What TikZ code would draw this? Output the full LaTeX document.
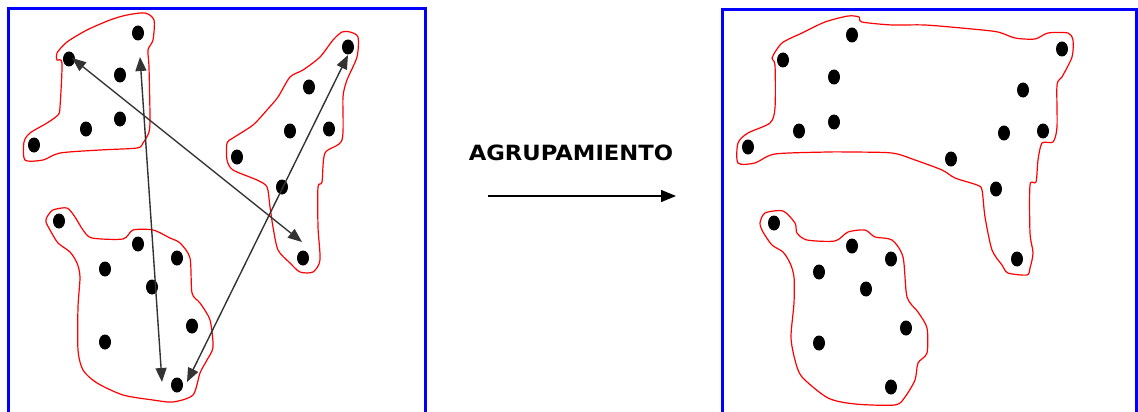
\documentclass[tikz,border=0pt]{standalone}
\usepackage{fontspec}
\usetikzlibrary{arrows.meta,shapes.geometric}
\newfontfamily\labelfont{DejaVu Sans}
\begin{document}
\begin{tikzpicture}[x=1pt,y=-1pt,
  dot/.style={ellipse,fill=black,inner sep=0pt,minimum width=12pt,minimum height=15pt},
  frame/.style={draw=blue,line width=3pt},
  blob/.style={draw=red,line width=1.2pt},
  link/.style={draw=black!80,line width=1.4pt,{Triangle[length=14pt,width=11pt]}-{Triangle[length=14pt,width=11pt]}},
  goarrow/.style={draw=black,line width=1.3pt,-{Triangle[length=15pt,width=12pt]}}]
\useasboundingbox (0,0) rectangle (1138,412);
\fill[white] (0,0) rectangle (1138,412);
% frames
\draw[frame] (8,414) -- (8,9) -- (425,9) -- (425,414);
\draw[frame] (722,414) -- (722,10) -- (1136,10) -- (1136,414);
% left contours
\draw[blob] plot[smooth cycle,tension=0.45] coordinates{(57,53) (67,42) (87,30) (110,20) (127,15) (145,13) (154,20) (153,40) (148,50) (149,67) (150,117) (149,132) (143,143) (137,148) (100,150) (60,153) (43,160) (25,160) (24,142) (30,133) (47,123) (58,115) (60,107) (62,63) (57,60)};
\draw[blob] plot[smooth cycle,tension=0.45] coordinates{(350,32) (358,37) (357,57) (347,80) (343,97) (342,140) (325,153) (322,182) (318,187) (318,227) (320,260) (313,272) (300,272) (290,263) (278,250) (273,227) (270,207) (267,187) (257,180) (233,170) (227,160) (227,143) (233,138) (253,125) (267,110) (278,97) (290,77) (303,70) (320,57) (333,40) (342,32)};
\draw[blob] plot[smooth cycle,tension=0.45] coordinates{(47,217) (53,210) (67,208) (75,217) (83,230) (92,238) (123,239) (133,230) (153,230) (170,238) (180,243) (190,258) (192,293) (200,303) (210,320) (213,347) (207,360) (200,373) (193,395) (173,402) (153,400) (123,395) (97,383) (83,370) (78,350) (78,307) (80,277) (77,263) (70,252) (58,243) (50,230) (46,222)};
% right contours
\draw[blob] plot[smooth cycle,tension=0.45] coordinates{(772,58) (782,43) (802,33) (825,22) (848,16) (859,17) (862,22) (892,25) (925,25) (972,29) (998,32) (1015,38) (1035,39) (1048,33) (1068,33) (1073,40) (1072,57) (1062,77) (1057,85) (1057,127) (1053,142) (1042,143) (1038,160) (1036,182) (1030,185) (1030,233) (1033,253) (1030,268) (1027,275) (1008,273) (1002,265) (992,250) (985,217) (982,190) (977,185) (955,178) (942,170) (915,160) (892,153) (848,152) (828,152) (775,154) (755,163) (738,163) (738,143) (748,133) (770,123) (775,108) (775,65)};
\draw[blob] plot[smooth cycle,tension=0.45] coordinates{(760,223) (765,213) (783,211) (795,223) (797,233) (807,240) (835,241) (848,232) (865,230) (875,237) (892,240) (903,257) (907,297) (918,312) (927,328) (927,353) (918,363) (915,380) (905,397) (895,405) (855,404) (828,398) (802,377) (795,360) (791,337) (794,303) (794,277) (790,263) (783,252) (772,245) (763,232)};
% left dots
\node[dot] (a1) at (138,33) {};
\node[dot] (a2) at (69,59) {};
\node[dot] (a3) at (120,75) {};
\node[dot] (a4) at (120,119) {};
\node[dot] (a5) at (86,129) {};
\node[dot] (a6) at (34,145) {};
\node[dot] (b1) at (348,47) {};
\node[dot] (b2) at (309,87) {};
\node[dot] (b3) at (290,131) {};
\node[dot] (b4) at (329,129) {};
\node[dot] (b5) at (237,157) {};
\node[dot] (b6) at (282,187) {};
\node[dot] (b7) at (303,258) {};
\node[dot] (c1) at (59,221) {};
\node[dot] (c2) at (138,244) {};
\node[dot] (c3) at (177,258) {};
\node[dot] (c4) at (105,269) {};
\node[dot] (c5) at (152,287) {};
\node[dot] (c6) at (192,326) {};
\node[dot] (c7) at (105,342) {};
\node[dot] (c8) at (177,385) {};
% right dots
\node[dot] (d1) at (852,35) {};
\node[dot] (d2) at (783,60) {};
\node[dot] (d3) at (834,77) {};
\node[dot] (d4) at (834,122) {};
\node[dot] (d5) at (799,131) {};
\node[dot] (d6) at (748,147) {};
\node[dot] (d7) at (1062,49) {};
\node[dot] (d8) at (1023,90) {};
\node[dot] (d9) at (1004,133) {};
\node[dot] (d10) at (1043,131) {};
\node[dot] (d11) at (951,159) {};
\node[dot] (d12) at (996,189) {};
\node[dot] (d13) at (1017,259) {};
\node[dot] (e1) at (774,223) {};
\node[dot] (e2) at (852,246) {};
\node[dot] (e3) at (891,259) {};
\node[dot] (e4) at (819,272) {};
\node[dot] (e5) at (866,289) {};
\node[dot] (e6) at (906,328) {};
\node[dot] (e7) at (819,343) {};
\node[dot] (e8) at (891,387) {};
% arrow ends
\coordinate (p1) at (72,58);
\coordinate (q1) at (302,242);
\coordinate (p2) at (140,57);
\coordinate (q2) at (162,382);
\coordinate (p3) at (348,55);
\coordinate (q3) at (187,382);
\draw[link] (p1) -- (q1);
\draw[link] (p2) -- (q2);
\draw[link] (p3) -- (q3);
% middle
\node[font=\labelfont\bfseries\fontsize{21}{24}\selectfont,inner sep=0pt] (lbl) at (571,153) {\scalebox{1.08}[1]{AGRUPAMIENTO}};
\coordinate (m1) at (488,196);
\coordinate (m2) at (676,196);
\draw[goarrow] (m1) -- (m2);
\end{tikzpicture}
\end{document}
